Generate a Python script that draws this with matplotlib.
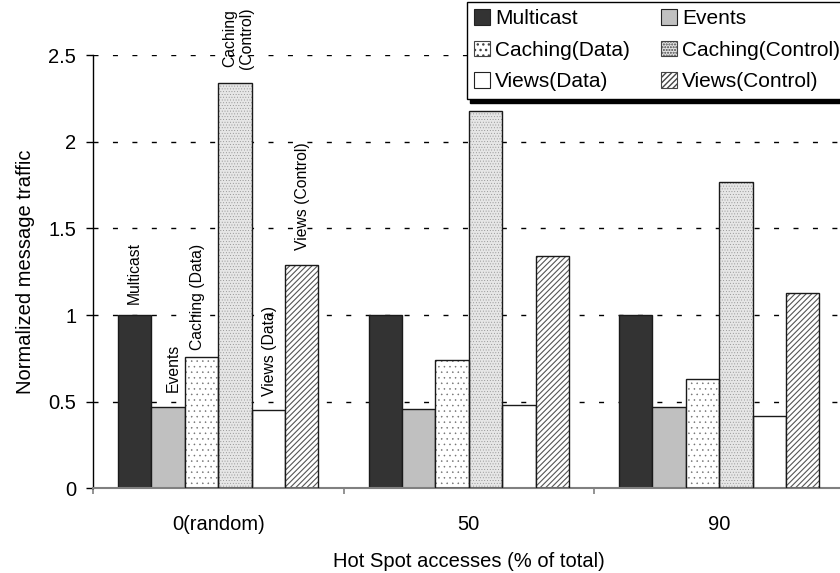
import matplotlib
matplotlib.use('Agg')
import matplotlib.pyplot as plt
import numpy as np
from matplotlib.patches import Patch

# ---------------- data ----------------
groups = ['0(random)', '50', '90']
series = ['Multicast', 'Events', 'Caching(Data)', 'Caching(Control)',
          'Views(Data)', 'Views(Control)']
multicast = [1.0, 1.0, 1.0]
events = [0.47, 0.46, 0.47]
caching_data = [0.76, 0.74, 0.63]
caching_control = [2.34, 2.18, 1.77]
views_data = [0.45, 0.48, 0.42]
views_control = [1.29, 1.34, 1.13]
bar_labels = ['Multicast', 'Events', 'Caching (Data)', 'Caching\n(Control)',
              'Views (Data)', 'Views (Control)']
yticks = [0, 0.5, 1, 1.5, 2, 2.5]
ytick_labels = ['0', '0.5', '1', '1.5', '2', '2.5']
xlabel = 'Hot Spot accesses (% of total)'
ylabel = 'Normalized message traffic'

values = [multicast, events, caching_data, caching_control, views_data, views_control]

# ---------------- style ----------------
plt.rcParams['font.family'] = ['Liberation Sans', 'DejaVu Sans']
faces = ['#333333', '#c0c0c0', 'white', '#e6e6e6', 'white', 'white']
hatches = [None, None, '...', '......', None, '//////']
hatch_lw = [0, 0, 0.35, 0.3, 0, 0.8]
hatch_cols = [None, None, '#707070', '#8a8a8a', None, '#555555']
edge_col = '#1a1a1a'
label_dx = [0, 5, -4, 3, 1, 1]      # pixel nudges of the in-chart labels
label_dy = [11, 15, 7, 14, 14, 15]

fig = plt.figure(figsize=(8.4, 5.73), dpi=100)
ax = fig.add_axes([93 / 840, 1 - 488.3 / 573, (844.5 - 93) / 840, (488.3 - 55.3) / 573])

n = len(series)
bw = 0.8 / n
x = np.arange(len(groups))
for i, (vals, fc, h) in enumerate(zip(values, faces, hatches)):
    pos = x - 0.4 + bw * (i + 0.5)
    if h:
        with plt.rc_context({'hatch.linewidth': hatch_lw[i]}):
            ax.bar(pos, vals, width=bw, color=fc, edgecolor=hatch_cols[i], hatch=h,
                   linewidth=0, zorder=2)
        ax.bar(pos, vals, width=bw, fill=False, edgecolor=edge_col,
               linewidth=1.0, zorder=3)
    else:
        ax.bar(pos, vals, width=bw, color=fc, edgecolor=edge_col,
               linewidth=1.0, zorder=2)
    ax.annotate(bar_labels[i], xy=(pos[0], vals[0]),
                xytext=(label_dx[i], label_dy[i]), textcoords='offset pixels',
                rotation=90, ha='center', va='bottom', fontsize=11.3,
                multialignment='center', zorder=4)

ax.set_xlim(-0.5, len(groups) - 0.5)
ax.set_ylim(0, 2.5)
ax.set_yticks(yticks)
ax.set_yticklabels(ytick_labels, fontsize=14.5)
ax.tick_params(axis='y', direction='out', length=5, width=1, color='black', pad=7)

ax.set_xticks(np.arange(len(groups) + 1) - 0.5)
ax.set_xticklabels([])
ax.tick_params(axis='x', which='major', direction='out', length=4.5, width=1.2,
               color='#808080')
ax.set_xticks(x, minor=True)
ax.set_xticklabels(groups, minor=True, fontsize=14.5)
ax.tick_params(axis='x', which='minor', length=0, pad=19)

ax.set_axisbelow(True)
ax.yaxis.grid(True, color='black', linestyle=(0, (3.6, 10.4)), linewidth=1.0)
for s in ['top', 'right']:
    ax.spines[s].set_visible(False)
ax.spines['left'].set_color('black')
ax.spines['left'].set_linewidth(1.0)
ax.spines['bottom'].set_color('#808080')
ax.spines['bottom'].set_linewidth(1.5)

ax.set_xlabel(xlabel, fontsize=14.5, labelpad=13)
ax.set_ylabel(ylabel, fontsize=14.5, labelpad=10)

# legend
handles = []
for i, (fc, h) in enumerate(zip(faces, hatches)):
    if h:
        with plt.rc_context({'hatch.linewidth': hatch_lw[i]}):
            handles.append(Patch(facecolor=fc, edgecolor='#444444', hatch=h, linewidth=0.8))
    else:
        handles.append(Patch(facecolor=fc, edgecolor='#222222', linewidth=0.8))
order = [0, 2, 4, 1, 3, 5]
leg = fig.legend([handles[k] for k in order], [series[k] for k in order],
                 ncol=2, loc='upper left', bbox_to_anchor=(467 / 840, 1 - 2 / 573),
                 fontsize=15, frameon=True, fancybox=False,
                 shadow={'color': 'black', 'alpha': 1, 'ox': 2.5, 'oy': -3},
                 edgecolor='black', framealpha=1, handlelength=0.75,
                 handleheight=0.75, handletextpad=0.25, columnspacing=1.5,
                 labelspacing=0.6, borderpad=0.35, borderaxespad=0)
leg.get_frame().set_linewidth(1.0)

fig.savefig('out.png', dpi=100)
